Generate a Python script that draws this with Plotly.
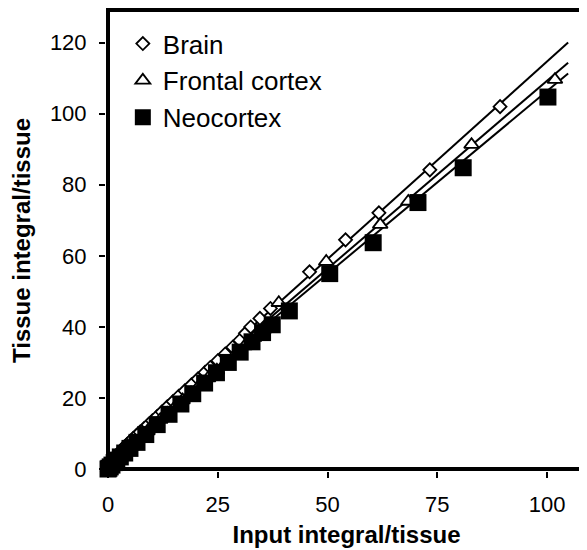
import plotly.graph_objects as go

# ---------------- data ----------------
series_names = ["Brain", "Frontal cortex", "Neocortex"]

brain_x = [0.05, 0.1, 0.2, 0.35, 0.5, 0.7, 1.0, 1.3, 1.7, 2.1, 2.6, 3.1, 3.7, 4.3,
           5.0, 5.7, 6.5, 7.3, 8.2, 9.1, 10.1, 11.2, 12.3, 13.5, 14.8, 16.1, 17.5,
           19.0, 20.5, 22.1, 23.3, 25.0, 26.7, 28.4, 30.0, 31.3, 32.5, 34.6, 37.0,
           45.9, 54.1, 61.7, 73.3, 89.3]
brain_y = [0.2, 0.4, 0.6, 0.9, 1.2, 1.6, 2.1, 2.6, 3.2, 3.7, 4.4, 5.0, 6.2, 6.9,
           7.7, 8.6, 9.5, 10.4, 11.4, 12.4, 13.6, 14.8, 16.1, 17.5, 19.0, 20.5, 22.0,
           23.7, 25.4, 27.2, 28.6, 30.5, 32.4, 34.3, 36.2, 38.2, 40.0, 42.4, 45.2,
           55.5, 64.5, 72.1, 84.2, 102.0]

frontal_x = [0.0, 0.2, 0.5, 0.9, 1.4, 2.0, 2.7, 3.5, 4.4, 5.4, 6.5, 7.7, 9.0, 10.4,
             11.9, 13.5, 15.2, 17.0, 18.9, 20.8, 22.8, 24.8, 26.9, 29.0, 31.1, 33.3,
             35.6, 38.9, 49.7, 62.0, 68.4, 82.8, 101.8]
frontal_y = [0.1, 0.4, 0.8, 1.3, 1.9, 2.6, 3.4, 4.3, 5.3, 6.4, 7.6, 9.0, 10.7, 12.2,
             13.9, 15.6, 17.4, 19.4, 21.4, 23.5, 25.6, 27.8, 30.1, 32.3, 34.6, 37.0,
             39.4, 46.8, 58.4, 68.8, 75.3, 91.3, 109.6]

neo_x = [0.0, 0.2, 0.5, 0.9, 1.4, 2.0, 2.8, 3.8, 5.0, 6.6, 8.6, 11.2, 13.9, 16.6,
         19.3, 22.0, 24.7, 27.4, 30.1, 32.8, 35.2, 37.4, 41.3, 50.5, 60.4, 70.6,
         80.9, 100.2]
neo_y = [0.0, 0.2, 0.6, 1.1, 1.8, 2.5, 3.4, 4.5, 5.8, 7.5, 9.7, 12.5, 15.4, 18.3,
         21.2, 24.2, 27.1, 30.0, 32.9, 35.8, 38.4, 40.6, 44.5, 55.0, 63.7, 75.0,
         84.8, 104.7]

# linear trend lines (slope, intercept, x-extent)
fit_slopes = [1.112, 1.058, 1.029]
fit_intercepts = [3.5, 3.5, 3.5]
fit_x_start = [0.0, 0.0, 0.0]
fit_x_end = [104.8, 104.8, 104.8]

x_tick_vals = [0, 25, 50, 75, 100]
y_tick_vals = [0, 20, 40, 60, 80, 100, 120]

# ---------------- figure ----------------
FONT = "Liberation Sans, Arial, sans-serif"
fig = go.Figure()

for m, b, x0, x1 in zip(fit_slopes, fit_intercepts, fit_x_start, fit_x_end):
    fig.add_trace(go.Scatter(x=[x0, x1], y=[m * x0 + b, m * x1 + b], mode="lines",
                             line=dict(color="black", width=2), showlegend=False,
                             hoverinfo="skip"))

fig.add_trace(go.Scatter(x=brain_x, y=brain_y, mode="markers", name=series_names[0],
                         cliponaxis=False,
                         marker=dict(symbol="diamond", size=10, color="white",
                                     line=dict(color="black", width=1.8))))
fig.add_trace(go.Scatter(x=frontal_x, y=frontal_y, mode="markers", name=series_names[1],
                         cliponaxis=False,
                         marker=dict(symbol="triangle-up", size=13, color="white",
                                     line=dict(color="black", width=1.8))))
fig.add_trace(go.Scatter(x=neo_x, y=neo_y, mode="markers", name=series_names[2],
                         cliponaxis=False,
                         marker=dict(symbol="square", size=17, color="black",
                                     line=dict(color="black", width=0))))

# the page body adds an 8 px offset, so the figure is 8 px smaller each way
fig.update_layout(
    width=579, height=542,
    margin=dict(l=98, r=0, t=2, b=79, autoexpand=False),
    paper_bgcolor="white", plot_bgcolor="white",
    font=dict(family=FONT, color="black"),
    legend=dict(x=0.035, y=0.978, xanchor="left", yanchor="top",
                bgcolor="rgba(0,0,0,0)", font=dict(size=26, family=FONT),
                itemwidth=30, tracegroupgap=0),
    xaxis=dict(range=[-0.46, 109.1], tickvals=x_tick_vals, ticks="outside",
               ticklen=6, tickwidth=2, tickcolor="black", showgrid=False,
               zeroline=True, zerolinecolor="black", zerolinewidth=4,
               showline=False, tickfont=dict(size=22, family=FONT),
               ticklabelstandoff=8, automargin=False,
               title=dict(text="<b>Input integral/tissue</b>",
                          font=dict(size=24, family=FONT), standoff=9)),
    yaxis=dict(range=[-0.56, 129.2], tickvals=y_tick_vals, ticks="outside",
               ticklen=6, tickwidth=2, tickcolor="black", showgrid=False,
               zeroline=True, zerolinecolor="black", zerolinewidth=4,
               showline=False, tickfont=dict(size=22, family=FONT),
               ticklabelstandoff=8, automargin=False,
               title=dict(text="<b>Tissue integral/tissue</b>",
                          font=dict(size=24, family=FONT), standoff=14)),
    shapes=[dict(type="line", xref="paper", yref="paper", x0=0, x1=1, y0=1, y1=1,
                 line=dict(color="black", width=4))],
)

fig.write_html("out.html")
